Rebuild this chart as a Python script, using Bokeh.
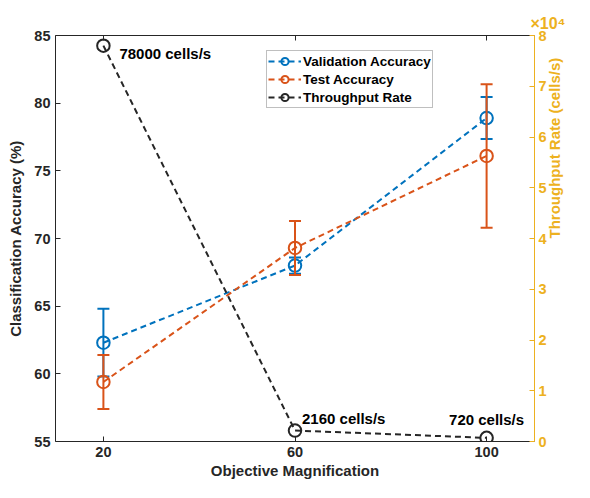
import math
from bokeh.plotting import figure
from bokeh.models import Range1d, LinearAxis, FixedTicker, Legend, LegendItem, Title
from bokeh.embed import file_html
from bokeh.resources import INLINE
from bokeh.core.properties import value

# ---- data ----
magnification = [20, 60, 100]
val_acc = [62.3, 68.0, 78.9]
val_err = [2.5, 0.6, 1.55]
test_acc = [59.4, 69.3, 76.1]
test_err = [2.0, 2.0, 5.3]
throughput = [78000, 2160, 720]
throughput_labels = ["78000 cells/s", "2160 cells/s", "720 cells/s"]
x_ticks = [20, 60, 100]
left_ticks = [55, 60, 65, 70, 75, 80, 85]
right_ticks = [0, 10000, 20000, 30000, 40000, 50000, 60000, 70000, 80000]
right_tick_labels = ["0", "1", "2", "3", "4", "5", "6", "7", "8"]
right_multiplier = "×10⁴"

BLUE = "#0072BD"
ORANGE = "#D95319"
YELLOW = "#EDB120"
DARK = "#262626"
FONT = "Liberation Sans"

p = figure(width=574, height=482, output_backend="svg", toolbar_location=None,
           x_range=Range1d(10, 110), y_range=Range1d(55, 85),
           min_border_left=55, min_border_right=37, min_border_top=35, min_border_bottom=41)
p.extra_y_ranges = {"thr": Range1d(0, 80000)}
p.outline_line_color = None
p.grid.visible = False
p.background_fill_color = "white"


def style_axis(ax, color):
    ax.axis_line_color = color
    ax.major_tick_line_color = color
    ax.minor_tick_line_color = None
    ax.major_tick_in = 5
    ax.major_tick_out = 0
    ax.major_label_text_color = color
    ax.major_label_text_font = FONT
    ax.major_label_text_font_style = "bold"
    ax.major_label_text_font_size = "14.5px"
    ax.axis_label_text_color = color
    ax.axis_label_text_font = FONT
    ax.axis_label_text_font_style = "bold"
    ax.axis_label_text_font_size = "15px"


xa = p.xaxis[0]
style_axis(xa, DARK)
xa.ticker = FixedTicker(ticks=x_ticks)
xa.axis_label = "Objective Magnification"
xa.major_label_standoff = 5
xa.axis_label_standoff = 2

ya = p.yaxis[0]
style_axis(ya, DARK)
ya.ticker = FixedTicker(ticks=left_ticks)
ya.axis_label = "Classification Accuracy (%)"
ya.major_label_standoff = 5
ya.axis_label_standoff = 7

top = LinearAxis(ticker=FixedTicker(ticks=x_ticks),
                 major_label_overrides={t: "" for t in x_ticks})
style_axis(top, DARK)
top.major_label_standoff = 0
p.add_layout(top, "above")

ra = LinearAxis(y_range_name="thr", ticker=FixedTicker(ticks=right_ticks),
                major_label_overrides={t: l for t, l in zip(right_ticks, right_tick_labels)})
style_axis(ra, YELLOW)
ra.axis_label = "Throughput Rate (cells/s)"
ra.axis_label_orientation = math.pi / 2
ra.major_label_standoff = 4
ra.axis_label_standoff = 5
p.add_layout(ra, "right")

# multiplier of the right axis, shown above its top end
mult = Title(text=right_multiplier, align="right", offset=-31, standoff=8,
             text_color=YELLOW, text_font=FONT, text_font_style="bold",
             text_font_size="16px")
p.add_layout(mult, "above")

# ---- validation ----
v_up = [a + e for a, e in zip(val_acc, val_err)]
v_lo = [a - e for a, e in zip(val_acc, val_err)]
vl = p.line(magnification, val_acc, line_color=BLUE, line_width=2, line_dash="6 4")
p.segment(magnification, v_lo, magnification, v_up, line_color=BLUE, line_width=2)
p.scatter(magnification, v_up, marker="dash", size=12, line_color=BLUE, line_width=2)
p.scatter(magnification, v_lo, marker="dash", size=12, line_color=BLUE, line_width=2)
vc = p.scatter(magnification, val_acc, marker="circle", size=12.5, line_color=BLUE,
               fill_color=None, line_width=2)

# ---- test ----
t_up = [a + e for a, e in zip(test_acc, test_err)]
t_lo = [a - e for a, e in zip(test_acc, test_err)]
tl = p.line(magnification, test_acc, line_color=ORANGE, line_width=2, line_dash="6 4")
p.segment(magnification, t_lo, magnification, t_up, line_color=ORANGE, line_width=2)
p.scatter(magnification, t_up, marker="dash", size=12, line_color=ORANGE, line_width=2)
p.scatter(magnification, t_lo, marker="dash", size=12, line_color=ORANGE, line_width=2)
tc = p.scatter(magnification, test_acc, marker="circle", size=12.5, line_color=ORANGE,
               fill_color=None, line_width=2)

# ---- throughput ----
hl = p.line(magnification, throughput, y_range_name="thr", line_color=DARK,
            line_width=2, line_dash="6 4")
hc = p.scatter(magnification, throughput, y_range_name="thr", marker="circle", size=12.5,
               line_color=DARK, fill_color=None, line_width=2)

text_kw = dict(y_range_name="thr", text_font=value(FONT), text_font_style="bold",
               text_font_size="15px", text_color="black", text_baseline="middle")
p.text([magnification[0]], [throughput[0]], text=[throughput_labels[0]],
       x_offset=16, y_offset=8, text_align="left", **text_kw)
p.text([magnification[1]], [throughput[1]], text=[throughput_labels[1]],
       x_offset=7, y_offset=-12, text_align="left", **text_kw)
p.text([magnification[2]], [throughput[2]], text=[throughput_labels[2]],
       x_offset=0, y_offset=-18, text_align="center", **text_kw)

legend = Legend(items=[
    LegendItem(label="Validation Accuracy", renderers=[vl, vc]),
    LegendItem(label="Test Accuracy", renderers=[tl, tc]),
    LegendItem(label="Throughput Rate", renderers=[hl, hc]),
], location=(211, 333), orientation="vertical")
legend.label_text_font = FONT
legend.label_text_font_style = "bold"
legend.label_text_font_size = "13.5px"
legend.label_text_color = "black"
legend.glyph_width = 33
legend.glyph_height = 18
legend.label_height = 18
legend.label_standoff = 2
legend.spacing = 0
legend.padding = 1
legend.margin = 0
legend.border_line_color = "#808080"
legend.border_line_width = 1
legend.background_fill_color = "white"
legend.background_fill_alpha = 1
p.add_layout(legend, "center")

open("out.html", "w").write(file_html(p, INLINE))
